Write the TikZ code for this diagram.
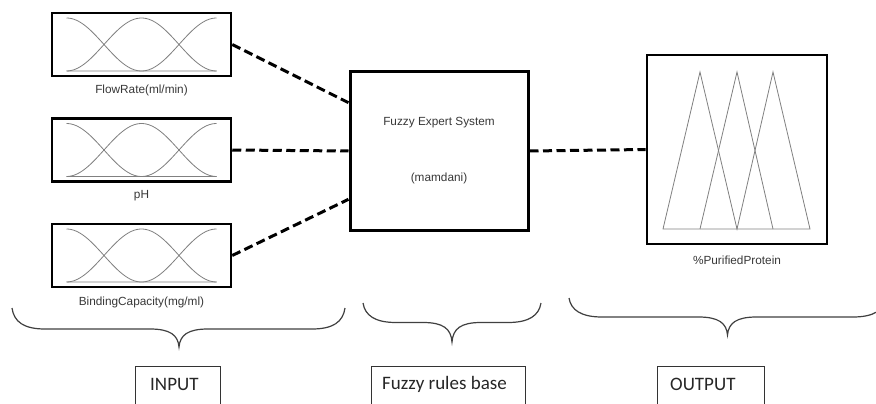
\documentclass[tikz,border=0pt]{standalone}
\usepackage{fontspec}
\usetikzlibrary{calc}
\setmainfont{Liberation Sans}
\newfontfamily\calibrifont{Carlito}
\newcommand\drawbrace[6]{% xl, xr, ytip, yflat, xc, ycusp
  \draw[bracestyle] (#1,#3) .. controls ({#1+2},{#4-7}) and ({#1+12},#4) .. ({#1+33},#4)
    -- ({#5-29},#4) .. controls ({#5-9},#4) and ({#5-1},{#4+6}) .. (#5,#6)
    .. controls ({#5+1},{#4+6}) and ({#5+9},#4) .. ({#5+29},#4)
    -- ({#2-33},#4) .. controls ({#2-12},#4) and ({#2-2},{#4-7}) .. (#2,#3);}
\begin{document}
\begin{tikzpicture}[x=1pt,y=-1pt,
  mfbox/.style={draw=black, line width=2.5pt, minimum width=179pt, minimum height=63pt, inner sep=0pt},
  fesbox/.style={draw=black, line width=3pt, minimum width=178pt, minimum height=158pt, inner sep=0pt},
  outbox/.style={draw=black, line width=2.7pt, minimum width=180pt, minimum height=189pt, inner sep=0pt},
  lbl/.style={font=\fontsize{11.8}{13}\selectfont, text=black!78, inner sep=0pt},
  mfline/.style={draw=black!50, line width=0.8pt},
  conn/.style={draw=black, line width=3pt, dash pattern=on 9pt off 4.5pt},
  bracestyle/.style={draw=black!75, line width=1.2pt},
  tagbox/.style={draw=black!80, line width=0.9pt},
  tagtext/.style={font=\calibrifont\fontsize{19}{22}\selectfont, text=black!85, inner sep=0pt, anchor=west},
  mfs/.pic={
    \draw[mfline] plot[domain=-75:0, samples=40] (\x, {26.5-26.5*(1+cos((\x+75)*180/75))}) -- (75,26.5);
    \draw[mfline] plot[domain=-75:75, samples=70] (\x, {26.5-26.5*(1+cos(\x*180/75))});
    \draw[mfline] (-75,26.5) -- (0,26.5) plot[domain=0:75, samples=40] (\x, {26.5-26.5*(1+cos((\x-75)*180/75))});
  }]
\useasboundingbox (0,0) rectangle (876,404);
\clip (0,0) rectangle (876,404);
\fill[white] (0,0) rectangle (876,404);

% input membership-function boxes
\node[mfbox] (in1) at (141.5,44.5) {};
\node[mfbox] (in2) at (141.5,150) {};
\node[mfbox] (in3) at (141.5,255.5) {};
\pic at (in1.center) {mfs};
\pic at (in2.center) {mfs};
\pic at (in3.center) {mfs};
\node[lbl] (l1) at (141.5,90) {FlowRate(ml/min)};
\node[lbl] (l2) at (141.5,196) {pH};
\node[lbl] (l3) at (141.5,302) {BindingCapacity(mg/ml)};

% fuzzy expert system
\node[fesbox] (fes) at (439,151) {};
\node[lbl] (fes1) at (439,123) {Fuzzy Expert System};
\node[lbl] (fes2) at (439,178) {(mamdani)};
\coordinate (fesA) at ($(fes.north west)!0.2!(fes.south west)$);
\coordinate (fesC) at ($(fes.north west)!0.8!(fes.south west)$);

% output box
\node[outbox] (out) at (737,149.5) {};
\draw[mfline] (663,229) -- (700,72) -- (737,229) -- (773,72) -- (810,229) -- cycle;
\draw[mfline] (700,229) -- (737,72) -- (773,229);
\node[lbl] (l4) at (737,260) {\%PurifiedProtein};

% connectors
\draw[conn] (in1.east) -- (fesA);
\draw[conn] (in2.east) -- (fes.west);
\draw[conn] (in3.east) -- (fesC);
\draw[conn] (fes.east) -- (out.west);

% braces
\drawbrace{12}{345}{308}{329}{179}{347}
\drawbrace{363}{541}{303}{322.5}{452}{342}
\drawbrace{569}{886}{298}{317}{727.5}{335}

% bottom tags
\draw[tagbox] (135,366) rectangle (220,420);
\node[tagtext] (tin) at (150,384) {INPUT};
\draw[tagbox] (371,366) rectangle (525,420);
\node[tagtext] (tfr) at (382,384) {Fuzzy rules base};
\draw[tagbox] (657,366) rectangle (764,420);
\node[tagtext] (tout) at (670,384) {OUTPUT};
\end{tikzpicture}
\end{document}
